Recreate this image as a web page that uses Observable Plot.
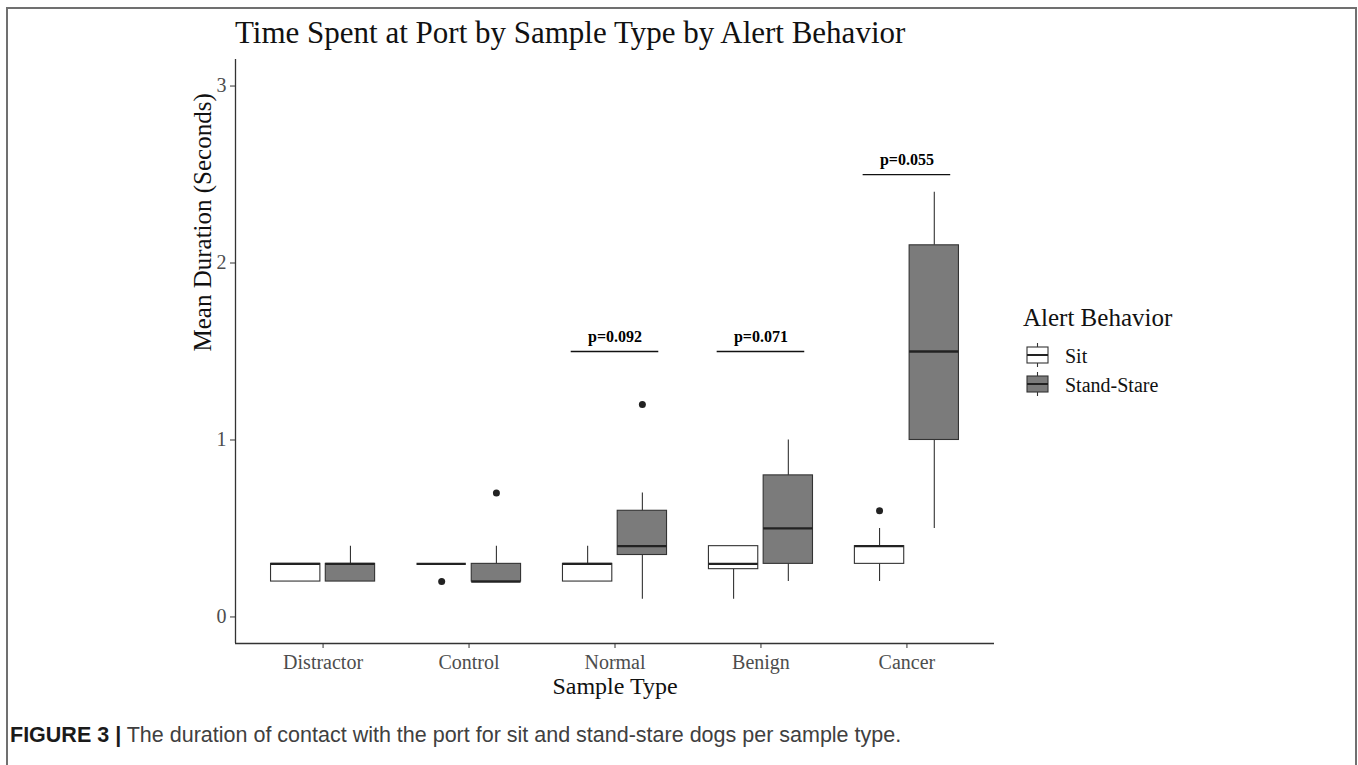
<!DOCTYPE html>
<html><head><meta charset="utf-8">
<script src="https://cdn.jsdelivr.net/npm/d3@7"></script>
<script src="https://cdn.jsdelivr.net/npm/@observablehq/plot@0.6"></script>
<style>
html,body{margin:0;padding:0;background:#fff;overflow:hidden;}
#page{position:relative;width:1358px;height:765px;overflow:hidden;}
#frame{position:absolute;left:6px;top:7px;width:1351px;height:800px;box-sizing:border-box;border:2px solid #707070;border-bottom:none;}
#title{position:absolute;left:235px;top:17px;font:31px/31px "Liberation Serif",serif;color:#111;white-space:nowrap;}
#chart{position:absolute;left:0;top:0;}
#legend{position:absolute;left:1010px;top:290px;}
#caption{position:absolute;left:10px;top:725px;font:21.5px/21.5px "Liberation Sans",Arial,sans-serif;color:#404040;white-space:nowrap;}
#caption b{color:#1a1a1a;}
</style></head>
<body>
<div id="page">
  <div id="frame"></div>
  <div id="chart"></div>
  <div id="title"></div>
  <div id="legend"></div>
  <div id="caption"></div>
</div>
<script>
// ---------- data ----------
const chartTitle = "Time Spent at Port by Sample Type by Alert Behavior";
const xTitle = "Sample Type";
const yTitle = "Mean Duration (Seconds)";
const legendTitle = "Alert Behavior";
const captionLead = "FIGURE 3 |";
const captionText = " The duration of contact with the port for sit and stand-stare dogs per sample type.";

const categories = ["Distractor", "Control", "Normal", "Benign", "Cancer"];
const behaviors = ["Sit", "Stand-Stare"];
const behaviorFill = ["#ffffff", "#7b7b7b"];

const boxCategory = ["Distractor","Distractor","Control","Control","Normal","Normal","Benign","Benign","Cancer","Cancer"];
const boxBehavior = ["Sit","Stand-Stare","Sit","Stand-Stare","Sit","Stand-Stare","Sit","Stand-Stare","Sit","Stand-Stare"];
const whiskerLow  = [0.2, 0.2, 0.3, 0.2, 0.2, 0.1,  0.1,  0.2, 0.2, 0.5];
const quartile1   = [0.2, 0.2, 0.3, 0.2, 0.2, 0.35, 0.27, 0.3, 0.3, 1.0];
const medians     = [0.3, 0.3, 0.3, 0.2, 0.3, 0.4,  0.3,  0.5, 0.4, 1.5];
const quartile3   = [0.3, 0.3, 0.3, 0.3, 0.3, 0.6,  0.4,  0.8, 0.4, 2.1];
const whiskerHigh = [0.3, 0.4, 0.3, 0.4, 0.4, 0.7,  0.4,  1.0, 0.5, 2.4];

const outlierCategory = ["Control", "Control", "Normal", "Cancer"];
const outlierBehavior = ["Sit", "Stand-Stare", "Stand-Stare", "Sit"];
const outlierValue = [0.2, 0.7, 1.2, 0.6];

const pCategory = ["Normal", "Benign", "Cancer"];
const pLabel = ["p=0.092", "p=0.071", "p=0.055"];
const pHeight = [1.5, 1.5, 2.5];

const yTicks = [0, 1, 2, 3];
const yDomain = [-0.15, 3.15];

// ---------- layout helpers ----------
const dodge = 0.1875, halfBox = 0.169, halfBracket = 0.3;
const xDomain = [-0.6, categories.length - 0.4];
const xOf = (c, b) => categories.indexOf(c) + (b === behaviors[0] ? -dodge : dodge);

const rows = boxCategory.map((c, k) => ({
  xc: xOf(c, boxBehavior[k]), behavior: boxBehavior[k],
  lo: whiskerLow[k], q1: quartile1[k], med: medians[k], q3: quartile3[k], hi: whiskerHigh[k]
}));
const outliers = outlierCategory.map((c, k) => ({xc: xOf(c, outlierBehavior[k]), value: outlierValue[k]}));
const pRows = pCategory.map((c, k) => ({i: categories.indexOf(c), label: pLabel[k], h: pHeight[k]}));

const serif = '"Liberation Serif", "Times New Roman", serif';
const strokeC = "#333333";

const chart = Plot.plot({
  width: 1358, height: 700,
  marginLeft: 235, marginRight: 364, marginTop: 59, marginBottom: 57,
  x: {type: "linear", domain: xDomain},
  y: {domain: yDomain},
  style: {fontFamily: serif, background: "transparent", overflow: "visible"},
  marks: [
    Plot.ruleX(rows, {x: "xc", y1: "lo", y2: "q1", stroke: strokeC, strokeWidth: 1.1}),
    Plot.ruleX(rows, {x: "xc", y1: "q3", y2: "hi", stroke: strokeC, strokeWidth: 1.1}),
    Plot.rect(rows, {x1: d => d.xc - halfBox, x2: d => d.xc + halfBox, y1: "q1", y2: "q3",
      fill: d => behaviorFill[behaviors.indexOf(d.behavior)], stroke: strokeC, strokeWidth: 1.1}),
    Plot.ruleY(rows, {y: "med", x1: d => d.xc - halfBox, x2: d => d.xc + halfBox, stroke: "#222", strokeWidth: 2.3}),
    Plot.dot(outliers, {x: "xc", y: "value", r: 3.5, fill: "#222", stroke: null}),
    Plot.ruleY(pRows, {y: "h", x1: d => d.i - halfBracket, x2: d => d.i + halfBracket, stroke: "#111", strokeWidth: 1.3}),
    Plot.text(pRows, {x: "i", y: "h", text: "label", dy: -10, lineAnchor: "bottom",
      fontWeight: "bold", fontSize: 16, fill: "#000", fontFamily: serif}),
    Plot.ruleX([xDomain[0]], {stroke: strokeC, strokeWidth: 1.3}),
    Plot.ruleY([yDomain[0]], {stroke: strokeC, strokeWidth: 1.3}),
    Plot.axisX({ticks: d3.range(categories.length), tickFormat: i => categories[i],
      tickSize: 5, tickPadding: 6, fontSize: 20, stroke: strokeC, fill: "#4d4d4d", label: null}),
    Plot.axisY({ticks: yTicks, tickFormat: d => String(d), tickSize: 5, tickPadding: 4,
      fontSize: 20, stroke: strokeC, fill: "#4d4d4d", label: null}),
    Plot.text([xTitle], {frameAnchor: "bottom", dy: 50, lineAnchor: "bottom", fontSize: 24, fill: "#111", text: d => d}),
    Plot.text([yTitle], {frameAnchor: "left", rotate: -90, dx: -25, lineAnchor: "bottom", fontSize: 25, fill: "#111", text: d => d})
  ]
});
document.getElementById("chart").appendChild(chart);

document.getElementById("title").textContent = chartTitle;
const cap = document.getElementById("caption");
const b = document.createElement("b"); b.textContent = captionLead; cap.appendChild(b);
cap.appendChild(document.createTextNode(captionText));

// ---------- legend ----------
const lg = d3.select("#legend").append("svg").attr("width", 200).attr("height", 120)
  .style("font-family", serif);
lg.append("text").attr("x", 13).attr("y", 36).attr("font-size", 25).attr("fill", "#111").text(legendTitle);
behaviors.forEach((beh, k) => {
  const top = 57 + k * 29, g = lg.append("g");
  g.append("line").attr("x1", 27.5).attr("x2", 27.5).attr("y1", top - 4).attr("y2", top + 20)
    .attr("stroke", strokeC).attr("stroke-width", 1.1);
  g.append("rect").attr("x", 17).attr("y", top).attr("width", 21).attr("height", 16)
    .attr("fill", behaviorFill[k]).attr("stroke", strokeC).attr("stroke-width", 1.1);
  g.append("line").attr("x1", 17).attr("x2", 38).attr("y1", top + 8).attr("y2", top + 8)
    .attr("stroke", "#222").attr("stroke-width", 2);
  g.append("text").attr("x", 55).attr("y", top + 16).attr("font-size", 20).attr("fill", "#111").text(beh);
});
</script>
</body></html>
